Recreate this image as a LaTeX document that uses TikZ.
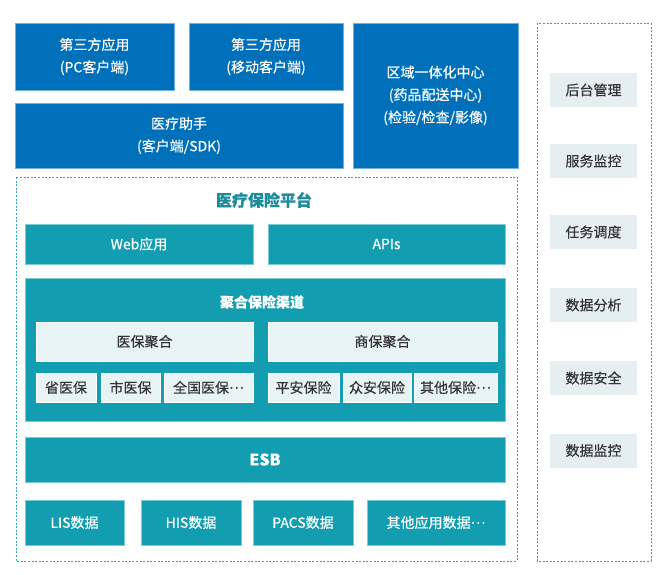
\documentclass[tikz,border=0pt]{standalone}
\usepackage{fontspec}
\setmainfont{Noto Sans CJK SC}[FakeBold=0.3]
\usepackage{tikz}
\usetikzlibrary{positioning}
\definecolor{medblue}{RGB}{0,112,187}
\definecolor{medteal}{RGB}{19,157,177}
\definecolor{paleteal}{RGB}{231,243,245}
\definecolor{palegray}{RGB}{229,238,241}
\definecolor{dashteal}{RGB}{50,163,184}
\definecolor{titleteal}{RGB}{28,140,155}
\definecolor{darktext}{RGB}{51,51,51}
\newcommand{\moredots}{\raisebox{0.3em}{…}}

\begin{document}
\begin{tikzpicture}[x=1pt, y=-1pt,
		box/.style={rectangle, inner sep=0pt, align=center, font=\fontsize{14}{22.5}\selectfont},
		bluebox/.style={box, fill=medblue, draw=medblue!55!white, line width=0.4pt, text=white},
		tealbox/.style={box, fill=medteal, draw=medteal!55!white, line width=0.4pt, text=white},
		palebox/.style={box, fill=paleteal, draw=white, line width=0.4pt, text=darktext},
		sidebox/.style={box, fill=palegray, text=darktext, minimum width=87, minimum height=34},
		zone/.style={draw=dashteal, line width=0.8pt, dash pattern=on 2pt off 1.6pt}]
		\useasboundingbox[fill=white] (0,0) rectangle (664,575);
		
		\node[bluebox, minimum width=159, minimum height=67] (pc) at (94.5,56.5) {第三方应用\\(PC客户端)};
		\node[bluebox, minimum width=154, minimum height=67] (mobile) at (266,56.5) {第三方应用\\(移动客户端)};
		\node[bluebox, minimum width=328, minimum height=65] (helper) at (179,135.5) {医疗助手\\(客户端/SDK)};
		\node[bluebox, minimum width=165, minimum height=145] (region) at (435.5,95.5) {区域一体化中心\\(药品配送中心)\\(检验/检查/影像)};
		
		\draw[zone] (16,177) rectangle (517,561);
		\draw[zone] (537,23) rectangle (651,561);
		
		\node[font=\fontsize{16}{18}\selectfont\bfseries, text=titleteal] (platform) at (264,200) {医疗保险平台};
		\node[tealbox, minimum width=228, minimum height=40] (web) at (139,244) {Web应用};
		\node[tealbox, minimum width=237, minimum height=40] (apis) at (386.5,244) {APIs};
		
		\node[tealbox, minimum width=480, minimum height=143] (channel) at (265,349.5) {};
		\node[font=\fontsize{14}{16}\selectfont\bfseries, text=white] (channeltitle) at (262,302) {聚合保险渠道};
		\node[palebox, minimum width=217, minimum height=39] (yibao) at (144.5,341.5) {医保聚合};
		\node[palebox, minimum width=229, minimum height=39] (shangbao) at (382.5,341.5) {商保聚合};
		\node[palebox, minimum width=60, minimum height=29] (sheng) at (66,387.5) {省医保};
		\node[palebox, minimum width=59, minimum height=29] (shi) at (130.5,387.5) {市医保};
		\node[palebox, minimum width=89, minimum height=29] (quanguo) at (208.5,387.5) {全国医保\moredots};
		\node[palebox, minimum width=71, minimum height=29] (pingan) at (303.5,387.5) {平安保险};
		\node[palebox, minimum width=68, minimum height=29] (zhongan) at (377,387.5) {众安保险};
		\node[palebox, minimum width=83, minimum height=29] (qita) at (455.5,387.5) {其他保险\moredots};
		
		\node[tealbox, minimum width=480, minimum height=45, font=\fontsize{16}{18}\selectfont\bfseries] (esb) at (265,459.5) {ESB};
		
		\node[tealbox, minimum width=99, minimum height=45] (lis) at (74.5,522.5) {LIS数据};
		\node[tealbox, minimum width=100, minimum height=45] (his) at (191,522.5) {HIS数据};
		\node[tealbox, minimum width=100, minimum height=45] (pacs) at (303,522.5) {PACS数据};
		\node[tealbox, minimum width=138, minimum height=45] (otherdata) at (436,522.5) {其他应用数据\moredots};
		
		\foreach \y/\lbl [count=\i] in {90/后台管理, 161/服务监控, 232/任务调度, 305/数据分析, 378/数据安全, 450.5/数据监控}
			\node[sidebox] (side\i) at (593.5,\y) {\lbl};
	\end{tikzpicture}
\end{document}
